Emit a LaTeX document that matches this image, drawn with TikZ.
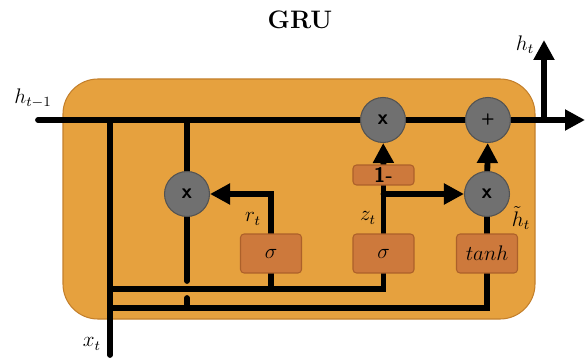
\documentclass[tikz,border=0pt]{standalone}
\usepackage{amsmath,amssymb}
\usetikzlibrary{arrows.meta}
\definecolor{cellorange}{RGB}{230,161,62}
\definecolor{celledge}{RGB}{196,128,44}
\definecolor{gatefill}{RGB}{205,121,60}
\definecolor{gateedge}{RGB}{172,96,42}
\definecolor{opgray}{RGB}{112,112,112}
\definecolor{opedge}{RGB}{82,82,82}
\pgfdeclarelayer{cellbg}
\pgfdeclarelayer{wires}
\pgfsetlayers{cellbg,wires,main}
\begin{document}
\begin{tikzpicture}[x=0.02cm,y=-0.02cm,
    op/.style={circle, fill=opgray, draw=opedge, line width=0.6pt, minimum size=0.9cm,
        inner sep=0pt, font=\sffamily\bfseries\large},
    gate/.style={rectangle, rounded corners=2pt, fill=gatefill, draw=gateedge, line width=0.6pt,
        minimum width=1.22cm, minimum height=0.78cm, inner sep=0pt, font=\large},
    wire/.style={line width=3.3pt, line cap=round},
    arr/.style={wire, -{Triangle[length=0.4cm,width=0.4cm]}},
    lab/.style={font=\large, inner sep=0.5pt}]

    \useasboundingbox (0,0) rectangle (585,358);

    \node[font=\Large\bfseries] (title) at (300,20) {GRU};

    % operations
    \node[op] (mulz) at (383,120) {x};
    \node[op, font=\sffamily\bfseries\small] (add) at (488,120) {+};
    \node[op] (mulr) at (187,194) {x};
    \node[op] (mulh) at (487,194) {x};

    % gates
    \node[gate] (sigr) at (271,253.5) {\(\sigma\)};
    \node[gate] (sigz) at (383.5,253.5) {\(\sigma\)};
    \node[gate] (tanh) at (487,253.5) {\(tanh\)};
    \node[gate, minimum height=0.4cm, font=\sffamily\bfseries\large] (omz) at (383.5,175) {1-};

    % labels
    \node[lab] (hprev) at (33,98) {\(h_{t-1}\)};
    \node[lab] (hnext) at (525,45) {\(h_t\)};
    \node[lab] (xlab) at (92,344) {\(x_t\)};
    \node[lab] (rlab) at (253,219) {\(r_t\)};
    \node[lab] (zlab) at (368,218) {\(z_t\)};
    \node[lab] (hlab) at (521,218) {\(\tilde{h}_t\)};

    \coordinate (hin) at (38,120);
    \coordinate (hout) at (585,120);
    \coordinate (hsplit) at (544,120);
    \coordinate (htop) at (544,40);
    \coordinate (xin) at (110,355);
    \coordinate (xj) at (110,120);
    \coordinate (rj) at (187,120);
    \coordinate (ja) at (110,289);
    \coordinate (jb) at (110,308);
    \coordinate (ra) at (271,289);
    \coordinate (za) at (383.5,289);
    \coordinate (hb) at (487,308);
    \coordinate (rgapa) at (187,281);
    \coordinate (rgapb) at (187,298);
    \coordinate (rb) at (187,308);
    \coordinate (zj) at (383.5,194);

    \begin{pgfonlayer}{cellbg}
        \filldraw[fill=cellorange, draw=celledge, line width=0.6pt, rounded corners=0.7cm]
            (63,79) rectangle (535,319);
    \end{pgfonlayer}

    \begin{pgfonlayer}{wires}
        \draw[wire] (hin) -- (mulz) -- (add);
        \draw[arr] (add) -- (hout);
        \draw[arr] (hsplit) -- (htop);
        \draw[wire] (xin) -- (xj);

        \draw[wire] (rj) -- (mulr) -- (rgapa);
        \draw[wire] (rgapb) -- (rb);
        \draw[wire] (ja) -- (za) -- (sigz);
        \draw[wire] (ra) -- (sigr);
        \draw[wire] (jb) -- (hb) -- (tanh);

        \draw[arr] (sigr) |- (mulr);
        \draw[wire] (sigz) -- (omz);
        \draw[arr] (omz) -- (mulz);
        \draw[arr] (zj) -- (mulh);
        \draw[wire] (tanh) -- (mulh);
        \draw[arr] (mulh) -- (add);
    \end{pgfonlayer}

\end{tikzpicture}
\end{document}
